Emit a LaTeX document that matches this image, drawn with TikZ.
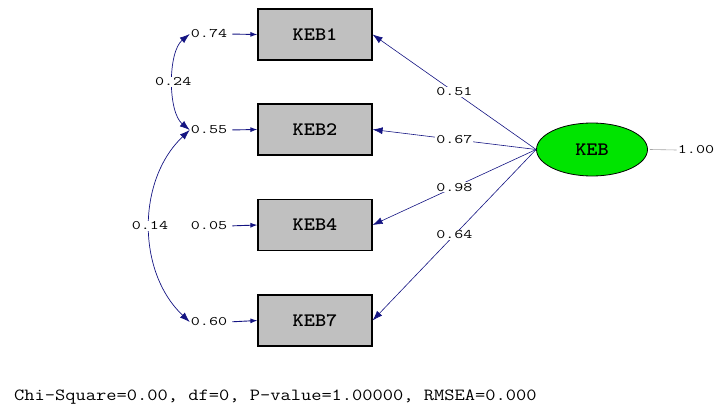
\documentclass[tikz,border=0pt]{standalone}
\usepackage{fontspec}
\usetikzlibrary{shapes.geometric,arrows.meta}
\definecolor{pathblue}{RGB}{20,20,130}
\definecolor{latgreen}{RGB}{0,228,0}
\definecolor{boxgray}{RGB}{192,192,192}
\definecolor{freeline}{RGB}{165,165,165}
% typewriter text, stretched to the wide cells of the plot font
\newcommand\widetxt[1]{\scalebox{1.35}[1]{#1}}
\newcommand\boxtxt[1]{\scalebox{1.12}[1]{\bfseries #1}}
\newcommand\fittxt[1]{\scalebox{1.17}[1]{#1}}
\begin{document}
\begin{tikzpicture}[x=1pt,y=-1pt,
  obs/.style={draw=black,line width=1.2pt,fill=boxgray,minimum width=114pt,
    minimum height=51pt,inner sep=0pt,font=\ttfamily\fontsize{19}{19}\selectfont},
  lat/.style={ellipse,draw=black,line width=0.8pt,fill=latgreen,minimum width=111pt,
    minimum height=53pt,inner sep=0pt,font=\ttfamily\fontsize{19}{19}\selectfont},
  val/.style={font=\ttfamily\fontsize{13}{13}\selectfont,inner sep=1pt,fill=white,text=black},
  load/.style={draw=pathblue,line width=0.6pt,-{Latex[length=10pt,width=7pt]}},
  stub/.style={draw=pathblue,line width=0.9pt,shorten <=4pt,-{Latex[length=7pt,width=5pt]}},
  corr/.style={draw=pathblue,line width=0.7pt,{Latex[length=10pt,width=7pt]}-{Latex[length=10pt,width=7pt]}},
]
\useasboundingbox (0,0) rectangle (719,412);

% observed indicators
\node[obs] (k1) at (315,34.5) {\boxtxt{KEB1}};
\node[obs] (k2) at (315,129.5) {\boxtxt{KEB2}};
\node[obs] (k4) at (315,225) {\boxtxt{KEB4}};
\node[obs] (k7) at (315,320.5) {\boxtxt{KEB7}};

% error variances
\node[val] (e1) at (209,34) {\widetxt{0.74}};
\node[val] (e2) at (209,130) {\widetxt{0.55}};
\node[val] (e4) at (209,226) {\widetxt{0.05}};
\node[val] (e7) at (209,322) {\widetxt{0.60}};

\draw[stub] (e1.east) -- (k1.west);
\draw[stub] (e2.east) -- (k2.west);
\draw[stub] (e4.east) -- (k4.west);
\draw[stub] (e7.east) -- (k7.west);

% error covariances
\draw[corr] (e1.west) .. controls +(-22,18) and +(-22,-18) .. node[val,midway]{\widetxt{0.24}} (e2.west);
\draw[corr] (e2.west) .. controls +(-53,50) and +(-53,-50) .. node[val,midway]{\widetxt{0.14}} (e7.west);

% latent factor
\node[lat] (keb) at (592,149.5) {\boxtxt{KEB}};
\node[val] (var) at (696,150) {\widetxt{1.00}};
\draw[freeline,line width=0.6pt] (keb.east) ++(2,0) -- (var.west);

% loadings
\draw[load] (keb.west) -- node[val,pos=0.5]{\widetxt{0.51}} (k1.east);
\draw[load] (keb.west) -- node[val,pos=0.5]{\widetxt{0.67}} (k2.east);
\draw[load] (keb.west) -- node[val,pos=0.5]{\widetxt{0.98}} (k4.east);
\draw[load] (keb.west) -- node[val,pos=0.5]{\widetxt{0.64}} (k7.east);

% fit statistics
\node[anchor=west,inner sep=0pt,font=\ttfamily\fontsize{17}{17}\selectfont] (fit) at (14,397)
  {\fittxt{Chi-Square=0.00, df=0, P-value=1.00000, RMSEA=0.000}};
\end{tikzpicture}
\end{document}
